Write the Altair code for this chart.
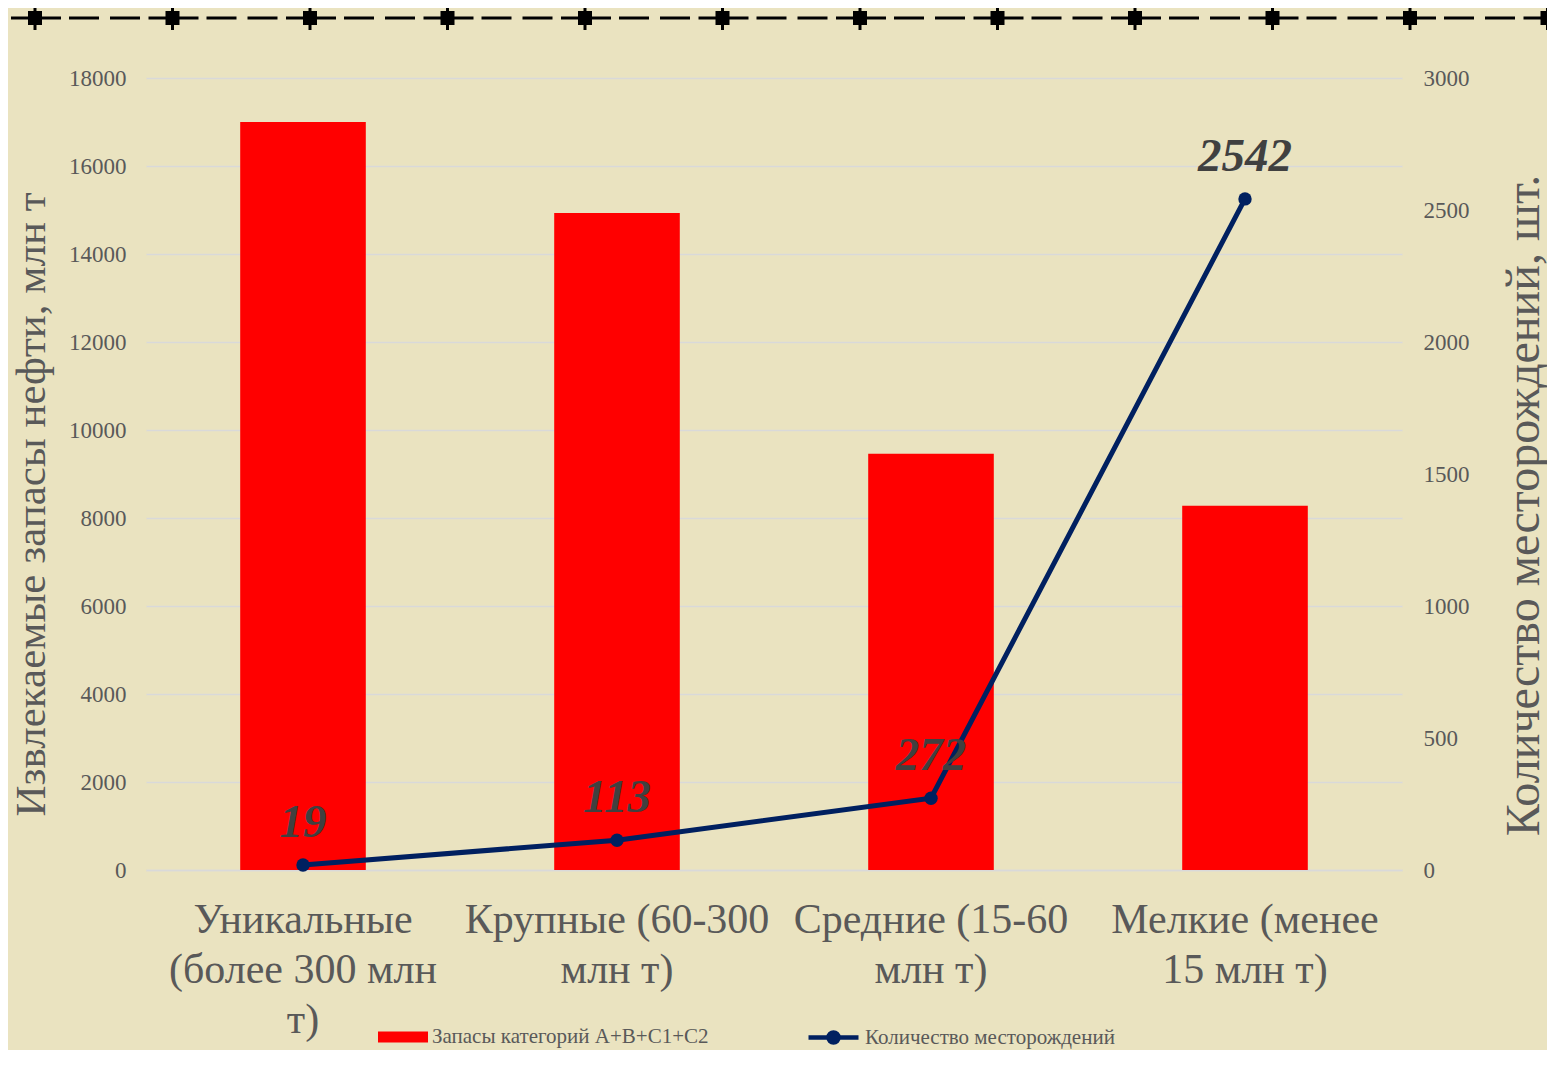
import altair as alt
import pandas as pd

# ---- data ----
categories = ["Уникальные|(более 300 млн|т)", "Крупные (60-300|млн т)",
              "Средние (15-60|млн т)", "Мелкие (менее|15 млн т)"]
reserves = [17000, 14930, 9460, 8280]
fields_count = [19, 113, 272, 2542]
bar_series = "Запасы категорий A+B+C1+C2"
line_series = "Количество месторождений"
left_ticks = [0, 2000, 4000, 6000, 8000, 10000, 12000, 14000, 16000, 18000]
right_ticks = [0, 500, 1000, 1500, 2000, 2500, 3000]
left_title = "Извлекаемые запасы нефти, млн т"
right_title = "Количество месторождений, шт."

df = pd.DataFrame({"cat": categories, "reserves": reserves, "count": fields_count,
                   "bar_series": bar_series, "line_series": line_series})

FONT = "Liberation Serif"
GREY = "#595959"
RED = "#FF0000"
NAVY = "#002060"

x_enc = alt.X("cat:N", sort=None,
              scale=alt.Scale(paddingInner=0.6, paddingOuter=0.3),
              axis=alt.Axis(title=None, labelExpr="split(datum.label, '|')",
                            labelFontSize=42, labelFont=FONT, labelColor=GREY,
                            labelLineHeight=50, labelPadding=29, labelLimit=1000,
                            labelAngle=0, ticks=False, domainColor="#D9D9D9",
                            domainWidth=1.5, grid=False))

bar_legend = alt.Legend(
    orient="none", legendX=232, legendY=934, direction="horizontal",
    symbolType="M-1,-0.22H1V0.22H-1Z", symbolSize=2500, symbolStrokeWidth=0,
    symbolFillColor=RED, symbolOpacity=1, labelLimit=1000,
    labelFont=FONT, labelFontSize=21, labelColor=GREY, labelOffset=4)

line_legend = alt.Legend(
    orient="none", legendX=660, legendY=932, direction="horizontal",
    symbolType="M-1,0H1M0.2,0A0.2,0.2,0,1,1,-0.2,0A0.2,0.2,0,1,1,0.2,0",
    symbolSize=2500, symbolStrokeWidth=4.5, symbolFillColor=NAVY,
    symbolStrokeColor=NAVY, symbolOpacity=1, labelLimit=1000,
    labelFont=FONT, labelFontSize=21, labelColor=GREY, labelOffset=4)

base = alt.Chart(df)

bars = base.mark_bar().encode(
    x=x_enc,
    y=alt.Y("reserves:Q", scale=alt.Scale(domain=[0, 18000]),
            axis=alt.Axis(orient="left", values=left_ticks, format="d", title=left_title,
                          grid=True, gridColor="#D9D9D9", gridWidth=1.5, domain=False,
                          ticks=False, labelPadding=20, labelFont=FONT, labelFontSize=23,
                          labelColor=GREY, titleFont=FONT, titleFontSize=43,
                          titleColor=GREY, titleFontWeight="normal", titleAngle=270,
                          titleX=-102, titleY=426, titleAlign="center",
                          titleBaseline="alphabetic")),
    fill=alt.Fill("bar_series:N", scale=alt.Scale(domain=[bar_series], range=[RED]),
                  legend=bar_legend, title=None),
)

y_right = alt.Y("count:Q", scale=alt.Scale(domain=[0, 3000]),
                axis=alt.Axis(orient="right", values=right_ticks, format="d",
                              title=right_title, grid=False, domain=False, ticks=False,
                              labelPadding=21, labelFont=FONT, labelFontSize=23,
                              labelColor=GREY, titleFont=FONT, titleFontSize=48,
                              titleColor=GREY, titleFontWeight="normal", titleAngle=270,
                              titleX=136, titleY=427, titleAlign="center",
                              titleBaseline="alphabetic"))

line = base.mark_line(strokeWidth=5).encode(
    x=x_enc, y=y_right,
    stroke=alt.Stroke("line_series:N", scale=alt.Scale(domain=[line_series], range=[NAVY]),
                      legend=line_legend, title=None),
)

points = base.mark_circle(size=180, color=NAVY, opacity=1).encode(
    x=x_enc, y=y_right)

labels = base.mark_text(font=FONT, fontSize=47, fontWeight="bold", fontStyle="italic",
                        color="#404040", dy=-28, baseline="alphabetic").encode(
    x=x_enc, y=y_right, text="count:Q")

right_layer = alt.layer(line, points, labels)

deco_df = pd.DataFrame({"a": [0]})
deco_line = alt.Chart(deco_df).mark_rule(
    color="black", strokeWidth=3, strokeDash=[50, 8, 30, 11, 30, 8.5],
    strokeDashOffset=126.5).encode(x=alt.value(-146), x2=alt.value(1410), y=alt.value(-60))
deco_sq = alt.Chart(deco_df).mark_rule(
    color="black", strokeWidth=14, strokeDash=[14, 123.5],
    strokeDashOffset=109.5).encode(x=alt.value(-146), x2=alt.value(1410), y=alt.value(-60))
deco_tk = alt.Chart(deco_df).mark_rule(
    color="black", strokeWidth=24, strokeDash=[3, 134.5],
    strokeDashOffset=104).encode(x=alt.value(-146), x2=alt.value(1410), y=alt.value(-60))

chart = alt.layer(deco_line, deco_tk, deco_sq, bars, right_layer).resolve_scale(
    y="independent"
).properties(
    width=1256, height=792,
    autosize=alt.AutoSizeParams(type="none"),
    padding={"left": 138, "top": 70, "right": 145, "bottom": 180},
).configure(background="#EAE3C0").configure_view(strokeWidth=0)

chart.save("out.html", embed_options={"renderer": "svg", "actions": False})
